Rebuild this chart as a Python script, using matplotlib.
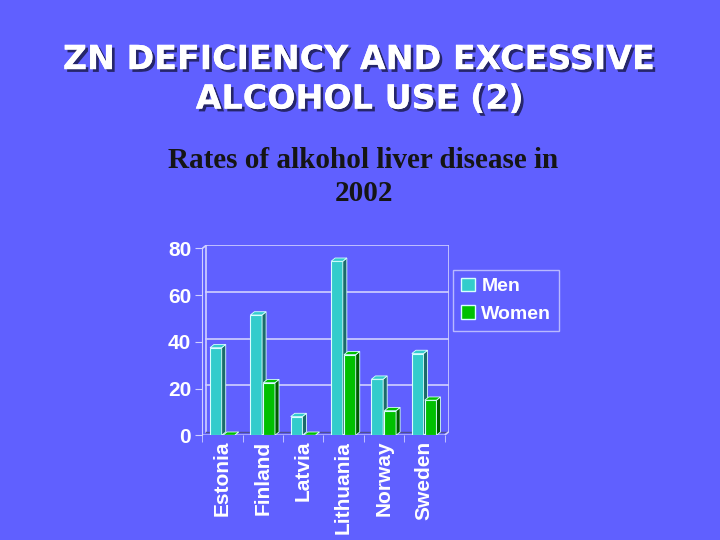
import matplotlib.pyplot as plt
import matplotlib.patches as mpatches
import matplotlib.patheffects as pe
import numpy as np

countries = ['Estonia', 'Finland', 'Latvia', 'Lithuania', 'Norway', 'Sweden']
men = [37.5, 51.5, 8, 74.5, 24, 35]
women = [0, 22.5, 0, 34.5, 10.5, 15]
yticks = [0, 20, 40, 60, 80]

bg = '#6060ff'
men_c, men_side = '#33cccc', '#1b6b6b'
women_c, women_side = '#00c000', '#005c00'
edge = '#d8ffff'
line_c = '#d0d0ff'

fig = plt.figure(figsize=(7.2, 5.4), dpi=100, facecolor=bg)

# slide heading with shadow
fig.text(0.5, 0.853, 'ZN DEFICIENCY AND EXCESSIVE\nALCOHOL USE (2)', ha='center', va='center',
         fontsize=24, fontweight='bold', color='white', family='DejaVu Sans', linespacing=1.25,
         path_effects=[pe.withSimplePatchShadow(offset=(2, -2), shadow_rgbFace='#20205a', alpha=0.9),
                       pe.Normal()])

fig.text(0.505, 0.672, 'Rates of alkohol liver disease in\n2002', ha='center', va='center',
         fontsize=21, fontweight='bold', color='#151515', family='Liberation Serif', linespacing=1.3)

ax = fig.add_axes([0.281, 0.194, 0.342, 0.352])
ax.set_facecolor('none')
x = np.arange(len(countries))
w = 0.29
dx, dy = 0.1, 1.4  # fake depth

# back wall grid lines
for t in yticks[1:]:
    ax.plot([-0.5 + dx, 5.5 + dx], [t + dy, t + dy], color=line_c, lw=1.2, zorder=1)
ax.plot([-0.5 + dx, -0.5 + dx], [dy, 80 + dy], color=line_c, lw=1.2, zorder=1)
ax.plot([5.5 + dx, 5.5 + dx], [dy, 80 + dy], color=line_c, lw=1.2, zorder=1)
ax.plot([-0.5, -0.5 + dx], [80, 80 + dy], color=line_c, lw=1.2, zorder=1)
# floor
ax.plot([-0.5 + dx, 5.5 + dx], [dy, dy], color='#505090', lw=1.0, zorder=1)
ax.plot([-0.5, 5.5, 5.5 + dx], [0, 0, dy], color=line_c, lw=1.2, zorder=2)


def bars3d(xs, vals, col, side):
    ax.bar(xs, vals, w, align='edge', color=col, edgecolor=edge, lw=0.8, zorder=3)
    for xi, v in zip(xs, vals):
        ax.fill([xi + w, xi + w + dx, xi + w + dx, xi + w], [0, dy, v + dy, v],
                color=side, ec=edge, lw=0.6, zorder=3)
        ax.fill([xi, xi + dx, xi + w + dx, xi + w], [v, v + dy, v + dy, v],
                color=col, ec=edge, lw=0.6, zorder=3)


bars3d(x - 0.31, men, men_c, men_side)
bars3d(x + 0.01, women, women_c, women_side)

ax.set_xlim(-0.5, 5.5 + dx)
ax.set_ylim(0, 80 + dy)
ax.set_yticks(yticks)
ax.set_xticks(x)
ax.set_xticklabels(countries, rotation=90, fontsize=15, fontweight='bold', color='white',
                   family='Liberation Sans')
ax.set_yticklabels([str(t) for t in yticks], fontsize=15, fontweight='bold', color='white',
                   family='Liberation Sans')
ax.set_xticks(np.arange(-0.5, 6, 1), minor=True)
ax.tick_params(axis='x', which='major', length=0, pad=4)
ax.tick_params(axis='x', which='minor', length=5, color=line_c)
ax.tick_params(axis='y', length=5, color=line_c, pad=3)
for s in ['top', 'right']:
    ax.spines[s].set_visible(False)
ax.spines['bottom'].set_visible(False)
ax.spines['left'].set_color(line_c)
ax.spines['left'].set_bounds(0, 80)

handles = [mpatches.Patch(facecolor=men_c, edgecolor=edge, label='Men'),
           mpatches.Patch(facecolor=women_c, edgecolor=edge, label='Women')]
leg = fig.legend(handles=handles, loc='upper left', bbox_to_anchor=(0.616, 0.518),
                 frameon=True, fancybox=False, handlelength=0.7, handleheight=0.7,
                 handletextpad=0.35, borderpad=0.4, labelspacing=0.5,
                 prop={'family': 'Liberation Sans', 'weight': 'bold', 'size': 14})
leg.get_frame().set_facecolor('none')
leg.get_frame().set_edgecolor(line_c)
for t in leg.get_texts():
    t.set_color('white')

fig.savefig('out.png', dpi=100, facecolor=bg)
